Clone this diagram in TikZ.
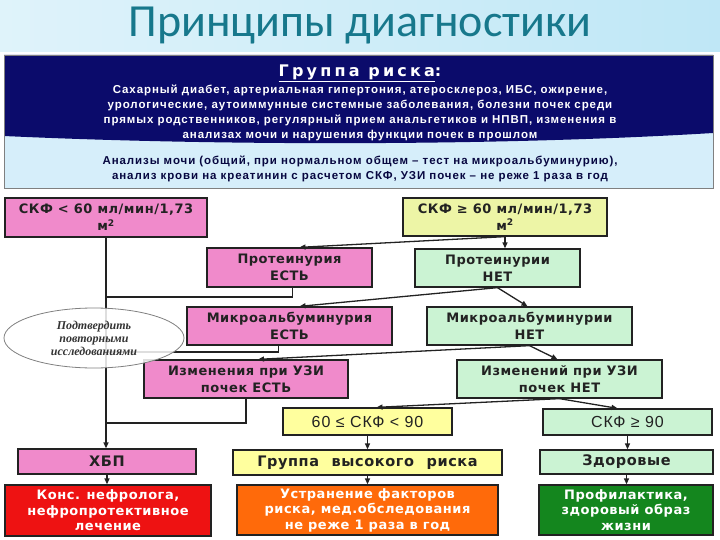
\documentclass[tikz,border=0pt]{standalone}
\usepackage{fontspec}
\setmainfont{Liberation Sans}
\newfontfamily\titlefont{Carlito}
\newfontfamily\listfont{Liberation Sans}[LetterSpace=8]
\newfontfamily\boxfont{DejaVu Sans}[LetterSpace=4]
\newfontfamily\valuefont{Liberation Sans}[LetterSpace=6]
\newfontfamily\headfont{DejaVu Sans}[LetterSpace=20]
\newfontfamily\notefont{Liberation Serif}
\usetikzlibrary{arrows.meta, shapes.geometric, positioning, calc}
\definecolor{SkyBand}{HTML}{BFE7F6}
\definecolor{TitleTeal}{HTML}{17788C}
\definecolor{NavyHead}{HTML}{0B0B6B}
\definecolor{PaleBlue}{HTML}{D6EEFA}
\definecolor{BoxPink}{HTML}{F08ACB}
\definecolor{BoxLime}{HTML}{EDF5A6}
\definecolor{BoxMint}{HTML}{CBF3D3}
\definecolor{BoxYellow}{HTML}{FFFF9E}
\definecolor{BoxRed}{HTML}{EE1212}
\definecolor{BoxOrange}{HTML}{FF6A0A}
\definecolor{BoxGreen}{HTML}{14861E}
\definecolor{LineDark}{HTML}{222222}
\tikzset{
  stepbox/.style={draw=LineDark, line width=1.3pt, align=center, inner sep=0pt,
    text=LineDark, font=\boxfont\bfseries\fontsize{13}{17}\selectfont},
  pinkbox/.style={stepbox, fill=BoxPink},
  mintbox/.style={stepbox, fill=BoxMint},
  bigbox/.style={font=\boxfont\bfseries\fontsize{14.5}{17}\selectfont},
  valuebox/.style={stepbox, font=\valuefont\fontsize{16}{18}\selectfont},
  actionbox/.style={stepbox, text=white, font=\boxfont\bfseries\fontsize{13}{15.5}\selectfont},
  link/.style={draw=LineDark, line width=1.3pt},
  arrow/.style={link, -{Triangle[length=6pt, width=5pt]}}
}

\begin{document}
\begin{tikzpicture}[x=1pt, y=-1pt]
  \useasboundingbox (0,0) rectangle (720,540);
  % title band
  \shade[left color=SkyBand!50, right color=SkyBand] (0,0) rectangle (720,52);
  \node[font=\titlefont\fontsize{46}{50}\selectfont, text=TitleTeal] (title) at (360,26) {Принципы диагностики};

  % risk group header
  \fill[PaleBlue] (4,55) rectangle (713,188);
  \fill[NavyHead] (4,55) -- (713,55) -- (713,133) .. controls (500,146) and (220,146) .. (4,136) -- cycle;
  \draw[gray, line width=0.8pt] (4,55) rectangle (713,188);
  \node[font=\headfont\bfseries\fontsize{16}{18}\selectfont, text=white] (riskhead) at (360,73) {\underline{Группа риска}:};
  \node[font=\listfont\bfseries\fontsize{11.5}{15}\selectfont, text=white, align=center] (risklist) at (360,113)
    {Сахарный диабет, артериальная гипертония, атеросклероз, ИБС, ожирение,\\
     урологические, аутоиммунные системные заболевания, болезни почек среди\\
     прямых родственников, регулярный прием анальгетиков и НПВП, изменения в\\
     анализах мочи и нарушения функции почек в прошлом};
  \node[font=\listfont\bfseries\fontsize{11.5}{15}\selectfont, text=NavyHead!60!black, align=center] (tests) at (360,168.5)
    {Анализы мочи (общий, при нормальном общем – тест на микроальбуминурию),\\
     анализ крови на креатинин с расчетом СКФ, УЗИ почек – не реже 1 раза в год};

  % flowchart boxes
  \node[pinkbox, minimum width=202, minimum height=39] (gfrLow) at (106,217.5) {СКФ < 60 мл/мин/1,73\\м\textsuperscript{2}};
  \node[stepbox, fill=BoxLime, minimum width=204, minimum height=38] (gfrHigh) at (505,217) {СКФ ≥ 60 мл/мин/1,73\\м\textsuperscript{2}};
  \node[pinkbox, minimum width=165, minimum height=39] (protYes) at (289.5,267.5) {Протеинурия\\ЕСТЬ};
  \node[mintbox, minimum width=165, minimum height=38] (protNo) at (497.5,268) {Протеинурии\\НЕТ};
  \node[pinkbox, minimum width=205, minimum height=38] (maYes) at (289.5,326) {Микроальбуминурия\\ЕСТЬ};
  \node[mintbox, minimum width=205, minimum height=38] (maNo) at (529.5,326) {Микроальбуминурии\\НЕТ};
  \node[pinkbox, minimum width=204, minimum height=38] (usYes) at (246,379) {Изменения при УЗИ\\почек ЕСТЬ};
  \node[mintbox, minimum width=205, minimum height=38] (usNo) at (559.5,379) {Изменений при УЗИ\\почек НЕТ};
  \node[valuebox, fill=BoxYellow, minimum width=169, minimum height=27] (gfrMid) at (367.5,421.5) {60 ≤ СКФ < 90};
  \node[valuebox, fill=BoxMint, minimum width=169, minimum height=26] (gfrNorm) at (627.5,422) {СКФ ≥ 90};
  \node[pinkbox, bigbox, minimum width=178, minimum height=25] (ckd) at (107,461.5) {ХБП};
  \node[stepbox, bigbox, fill=BoxYellow, minimum width=269, minimum height=25] (highRisk) at (367.5,462.5) {Группа\hspace{7pt} высокого\hspace{7pt} риска};
  \node[mintbox, bigbox, minimum width=173, minimum height=24] (healthy) at (626.5,462) {Здоровые};
  \node[actionbox, fill=BoxRed, minimum width=206, minimum height=51] (nephro) at (108,510.5) {Конс. нефролога,\\нефропротективное\\лечение};
  \node[actionbox, fill=BoxOrange, minimum width=261, minimum height=50] (removeRisk) at (367.5,510) {Устранение факторов\\риска, мед.обследования\\не реже 1 раза в год};
  \node[actionbox, fill=BoxGreen, minimum width=174, minimum height=50] (prevent) at (626,510) {Профилактика,\\здоровый образ\\жизни};

  % left trunk and joins
  \coordinate (joinProt) at (106,297);
  \coordinate (joinMa) at (106,352);
  \coordinate (joinUs) at (106,423);
  \draw[arrow] (gfrLow.south) -- (gfrLow.south |- ckd.north);
  \draw[link] ([xshift=3]protYes.south) |- (joinProt);
  \draw[link] ([xshift=-11]maYes.south) |- (joinMa);
  \draw[link] (usYes.south) |- (joinUs);
  \draw[arrow] (ckd.south) -- (nephro.north -| ckd.south);

  % branching arrows
  \draw[arrow] (gfrHigh.south) -- ([xshift=10]protYes.north);
  \draw[arrow] (gfrHigh.south) -- (gfrHigh.south |- protNo.north);
  \draw[arrow] (protNo.south) -- ([xshift=10]maYes.north);
  \draw[arrow] (protNo.south) -- ([xshift=-2]maNo.north);
  \draw[arrow] (maNo.south) -- ([xshift=12]usYes.north);
  \draw[arrow] (maNo.south) -- ([xshift=-2]usNo.north);
  \draw[arrow] (usNo.south) -- ([xshift=9]gfrMid.north);
  \draw[arrow] (usNo.south) -- ([xshift=-10]gfrNorm.north);
  \draw[arrow] (gfrMid.south) -- (highRisk.north);
  \draw[arrow] (highRisk.south) -- (removeRisk.north);
  \draw[arrow] (gfrNorm.south) -- (gfrNorm.south |- healthy.north);
  \draw[arrow] (healthy.south) -- (healthy.south |- prevent.north);

  % note over the trunk
  \node[ellipse, draw=gray, line width=0.8pt, fill=white, fill opacity=0.85, text opacity=1,
    minimum width=180, minimum height=60, inner sep=0pt, align=center, text=black!80,
    font=\notefont\bfseries\itshape\fontsize{12}{13}\selectfont] (confirm) at (94,338)
    {Подтвердить\\повторными\\исследованиями};
\end{tikzpicture}
\end{document}
